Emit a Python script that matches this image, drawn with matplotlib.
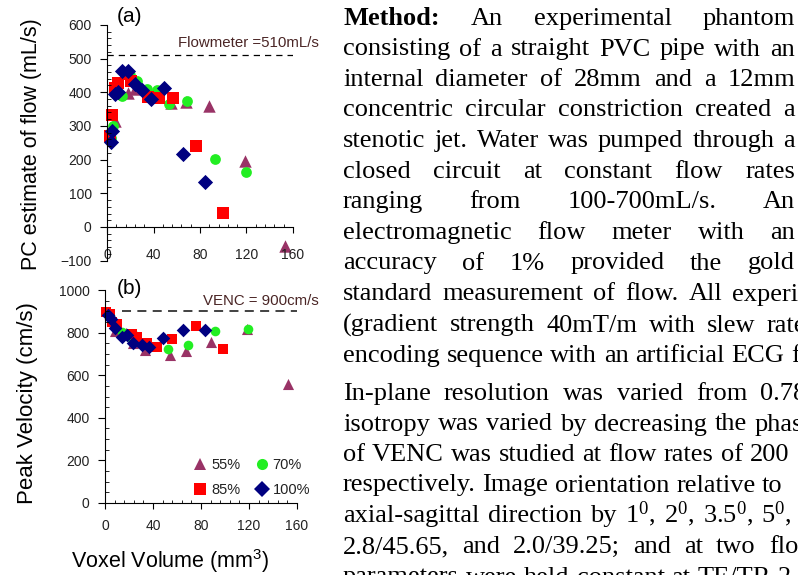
import matplotlib
matplotlib.use("Agg")
import matplotlib.pyplot as plt
from matplotlib.lines import Line2D
from matplotlib.ticker import MultipleLocator
from matplotlib.transforms import IdentityTransform

plt.rcParams['font.family'] = ['Liberation Sans', 'DejaVu Sans']

# ---- data ----
# (a) PC estimate of flow (mL/s) vs voxel volume (mm3)
a55_x = [6.8, 17.8, 24.0, 55.3, 67.8, 88.0, 118.5, 153.5]
a55_y = [316, 399, 410, 368, 371, 358, 197, -56]
a70_x = [3.7, 4.8, 12.8, 19.6, 25.8, 34.0, 42.6, 53.5, 69.0, 93.0, 119.7]
a70_y = [264, 299, 390, 451, 432, 409, 406, 366, 375, 201, 163]
a85_x = [3.0, 4.7, 6.8, 9.8, 16.0, 21.0, 35.4, 44.5, 57.0, 76.6, 99.6]
a85_y = [270, 332, 411, 427, 455, 432, 387, 382, 383, 239, 43]
a100_x = [3.7, 4.0, 6.6, 9.6, 13.2, 18.1, 24.0, 30.0, 37.7, 49.1, 65.0, 84.5]
a100_y = [253, 286, 394, 402, 464, 464, 425, 407, 381, 412, 216, 135]
flowmeter = 510

# (b) peak velocity (cm/s) vs voxel volume (mm3)
b55_x = [8.3, 17.5, 23.0, 33.4, 54.5, 67.5, 88.0, 118.2, 152.8]
b55_y = [808, 797, 750, 718, 695, 715, 757, 818, 560]
b70_x = [4.5, 13.9, 20.9, 25.8, 52.8, 69.0, 91.8, 119.5]
b70_y = [880, 804, 781, 784, 721, 744, 809, 816]
b85_x = [1.2, 4.0, 5.8, 9.7, 22.3, 26.4, 34.8, 43.1, 55.7, 76.0, 98.2]
b85_y = [898, 887, 849, 840, 792, 777, 753, 734, 770, 831, 722]
b100_x = [2.8, 4.6, 8.5, 13.9, 18.0, 23.6, 30.8, 37.0, 48.0, 64.8, 83.0]
b100_y = [883, 866, 823, 781, 789, 753, 742, 731, 773, 812, 812]
venc = 900

labels = ['55%', '70%', '85%', '100%']
colors = ['#993366', '#22ee22', '#ff0000', '#000080']
markers = ['^', 'o', 's', 'D']
sizes = [80, 60, 70, 60]

# paragraph on the right
body = [
    "Method: An experimental phantom",
    "consisting of a straight PVC pipe with an",
    "internal diameter of 28mm and a 12mm",
    "concentric circular constriction created a",
    "stenotic jet. Water was pumped through a",
    "closed circuit at constant flow rates",
    "ranging from 100-700mL/s. An",
    "electromagnetic flow meter with an",
    "accuracy of 1% provided the gold",
    "standard measurement of flow. All experiments",
    "(gradient strength 40mT/m with slew rate",
    "encoding sequence with an artificial ECG for",
    "In-plane resolution was varied from 0.78",
    "isotropy was varied by decreasing the phase",
    "of VENC was studied at flow rates of 200",
    "respectively. Image orientation relative to",
    r"axial-sagittal direction by 1$\mathregular{^0}$, 2$\mathregular{^0}$, 3.5$\mathregular{^0}$, 5$\mathregular{^0}$, 7",
    "2.8/45.65, and 2.0/39.25; and at two flow",
    "parameters were held constant at TE/TR 2",
]
baselines = [25, 55.5, 86, 116.5, 147, 177.5, 208, 239, 269.5,
             300.5, 331.5, 362, 400, 430.5, 461, 491.5, 522, 553, 583.5]
# None = justified to the column edge, otherwise word gap in px
gaps = [None] * 9 + [10, 11.5, 6.7, 13, 7.7, 7, 6.7, 8.5, 13, 7]

fig = plt.figure(figsize=(7.98, 5.75), dpi=100)
W, H = 798, 575


def style_axes(ax, xpad, ymajor):
    for s in ['top', 'right']:
        ax.spines[s].set_visible(False)
    ax.spines['bottom'].set_position(('data', 0))
    ax.set_xlim(0, 160)
    ax.xaxis.set_major_locator(MultipleLocator(40))
    ax.xaxis.set_minor_locator(MultipleLocator(8))
    ax.yaxis.set_major_locator(MultipleLocator(ymajor))
    ax.yaxis.set_minor_locator(MultipleLocator(ymajor / 5))
    ax.tick_params(axis='x', which='major', direction='out', length=4, pad=xpad,
                   labelsize=10, labelcolor='#222222')
    ax.tick_params(axis='x', which='minor', direction='in', length=2.5)
    ax.tick_params(axis='y', which='major', direction='out', length=5, pad=6,
                   labelsize=10, labelcolor='#222222')
    ax.tick_params(axis='y', which='minor', direction='in', length=3)
    ax.patch.set_alpha(0)


# (a)
ax1 = fig.add_axes([107 / W, 1 - 260.7 / H, 186 / W, 235.9 / H])
ax1.set_ylim(-100, 600)
style_axes(ax1, 11, 100)
ax1.axhline(flowmeter, color='black', lw=0.9, ls=(0, (5, 4)))
for xs, ys, c, m, s in zip([a55_x, a70_x, a85_x, a100_x], [a55_y, a70_y, a85_y, a100_y],
                           colors, markers, sizes):
    ax1.scatter(xs, ys, c=c, marker=m, s=s, linewidths=0, clip_on=False)
fig.text(178 / W, 1 - 43 / H, 'Flowmeter =510mL/s', fontsize=10.8, color='#4a2525',
         va='center')
fig.text(117 / W, 1 - 17 / H, '(a)', fontsize=15, va='center')
fig.text(32 / W, 1 - 144 / H, 'PC estimate of flow (mL/s)', fontsize=15.5,
         rotation=90, ha='center', va='center')

# (b)
ax2 = fig.add_axes([105 / W, 1 - 503 / H, 192 / W, 213 / H])
ax2.set_ylim(0, 1000)
style_axes(ax2, 7.5, 200)
ax2.yaxis.set_minor_locator(MultipleLocator(50))
ax2.plot([14, 160], [venc, venc], color='#333333', lw=1.3, ls=(0, (5, 3.5)))
for xs, ys, c, m, s in zip([b55_x, b70_x, b85_x, b100_x], [b55_y, b70_y, b85_y, b100_y],
                           colors, markers, sizes):
    ax2.scatter(xs, ys, c=c, marker=m, s=s * 0.8, linewidths=0, clip_on=False)
fig.text(203 / W, 1 - 301 / H, 'VENC = 900cm/s', fontsize=10.8, color='#4a2525',
         va='center')
fig.text(117 / W, 1 - 288 / H, '(b)', fontsize=15, va='center')
fig.text(28 / W, 1 - 403 / H, 'Peak Velocity (cm/s)', fontsize=16,
         rotation=90, ha='center', va='center')
fig.text(170 / W, 1 - 561 / H, r'Voxel Volume (mm$\mathregular{^3}$)', fontsize=15.5,
         ha='center', va='center')

handles = [Line2D([], [], ls='none', marker=m, color=c, markersize=8, markeredgewidth=0)
           for m, c in zip(markers, colors)]
order = [0, 2, 1, 3]
ax2.legend([handles[i] for i in order], [labels[i] for i in order], ncol=2,
           loc='lower right', bbox_to_anchor=(310 / W, 1 - 497 / H),
           bbox_transform=fig.transFigure, frameon=False, fontsize=10.5,
           handlelength=0.9, handletextpad=0.3, columnspacing=1.0,
           labelspacing=0.75, borderpad=0, borderaxespad=0, labelcolor='#222222')

# justified paragraph
renderer = fig.canvas.get_renderer()
left, right = 343, 795
for line, yb, gap in zip(body, baselines, gaps):
    words = line.split(' ')
    texts = []
    for w in words:
        t = fig.text(0, H - yb, w, transform=IdentityTransform(), fontsize=19,
                     family='Liberation Serif', va='baseline',
                     weight='bold' if w == 'Method:' else 'normal')
        texts.append(t)
    widths = [t.get_window_extent(renderer).width for t in texts]
    if gap is None:
        gap = (right - left - sum(widths)) / (len(words) - 1)
    x = left
    for t, w in zip(texts, widths):
        t.set_x(x)
        x += w + gap

fig.savefig('out.png', dpi=100)
